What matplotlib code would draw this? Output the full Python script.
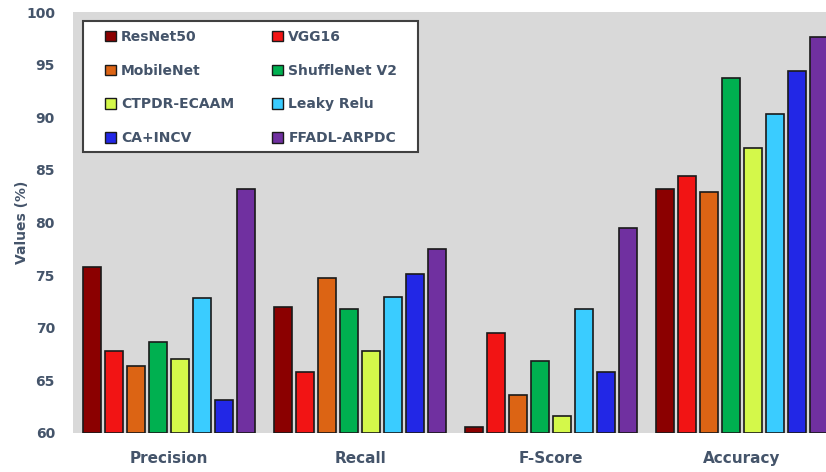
import matplotlib
matplotlib.use("Agg")
import matplotlib.pyplot as plt
import numpy as np
from matplotlib.patches import Patch, Rectangle

metrics = ["Precision", "Recall", "F-Score", "Accuracy"]
models = ["ResNet50", "VGG16", "MobileNet", "ShuffleNet V2",
          "CTPDR-ECAAM", "Leaky Relu", "CA+INCV", "FFADL-ARPDC"]

resnet50 = [75.8, 72.0, 60.6, 83.2]
vgg16 = [67.8, 65.8, 69.5, 84.4]
mobilenet = [66.4, 74.7, 63.6, 82.9]
shufflenet_v2 = [68.6, 71.8, 66.8, 93.7]
ctpdr_ecaam = [67.0, 67.8, 61.6, 87.1]
leaky_relu = [72.8, 72.9, 71.8, 90.3]
ca_incv = [63.1, 75.1, 65.8, 94.4]
ffadl_arpdc = [83.2, 77.5, 79.5, 97.6]

colors = ["#8B0000", "#F21414", "#DC6414", "#00B050",
          "#D4F84A", "#3ACCFF", "#2227E6", "#7030A0"]

series = [resnet50, vgg16, mobilenet, shufflenet_v2,
          ctpdr_ecaam, leaky_relu, ca_incv, ffadl_arpdc]

text_color = "#44546A"

fig = plt.figure(figsize=(8.26, 4.72), dpi=100)
ax = fig.add_axes([73 / 826, 39 / 472, 765 / 826, 421 / 472])
ax.set_facecolor("#D9D9D9")

x = np.arange(len(metrics))
slot = 0.1152
width = 0.097
for i, (vals, col) in enumerate(zip(series, colors)):
    ax.bar(x + (i - 3.5) * slot, np.array(vals) - 60, width, bottom=60,
           color=col, edgecolor="#1A1A1A", linewidth=1.2, zorder=3)

ax.set_xlim(-0.503, 3.502)
ax.set_ylim(60, 100)
ax.set_yticks(np.arange(60, 101, 5))
ax.set_xticks(x)
ax.set_xticklabels(metrics)
for s in ax.spines.values():
    s.set_visible(False)
ax.tick_params(axis="both", length=0, colors=text_color)
ax.tick_params(axis="y", pad=13)
ax.tick_params(axis="x", pad=13)
for lbl in ax.get_yticklabels():
    lbl.set_fontsize(10)
    lbl.set_fontweight("bold")
for lbl in ax.get_xticklabels():
    lbl.set_fontsize(11)
    lbl.set_fontweight("bold")
ax.set_ylabel("Values (%)", fontsize=10, fontweight="bold", color=text_color, labelpad=-2)

# legend frame drawn separately for tighter control of padding
frame = Rectangle((10 / 765, (433 - 152) / 421), 335 / 765, 131 / 421,
                  transform=ax.transAxes, facecolor="white",
                  edgecolor="#404040", linewidth=1.5, zorder=4)
ax.add_patch(frame)

handles = [Patch(facecolor=c, edgecolor="#1A1A1A", linewidth=1.0) for c in colors]
order = [0, 2, 4, 6, 1, 3, 5, 7]
leg = ax.legend([handles[k] for k in order], [models[k] for k in order],
                ncol=2, loc="upper left",
                bbox_to_anchor=(32 / 765, (433 - 30) / 421),
                borderaxespad=0, borderpad=0, frameon=False,
                prop={"size": 10, "weight": "bold"},
                handlelength=0.8, handleheight=0.8, handletextpad=0.35,
                labelspacing=1.42, columnspacing=2.75)
leg.set_zorder(5)
for t in leg.get_texts():
    t.set_color(text_color)

fig.savefig("out.png", dpi=100)
